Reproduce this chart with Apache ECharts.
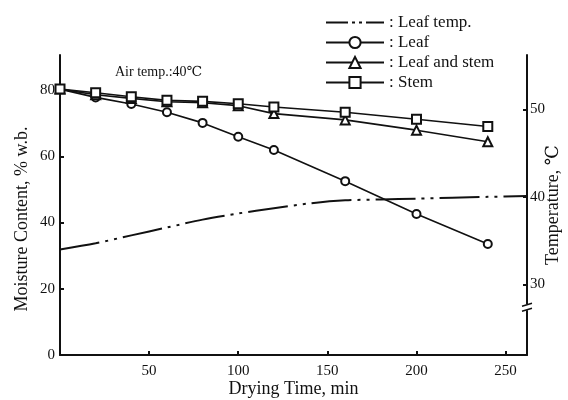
<!DOCTYPE html>
<html>
<head>
<meta charset="utf-8">
<script src="https://cdn.jsdelivr.net/npm/echarts@6/dist/echarts.min.js"></script>
<style>
  html, body { margin: 0; padding: 0; background: #fff; }
  #main { width: 568px; height: 400px; }
</style>
</head>
<body>
<div id="main"></div>
<script>
// sampling times (min)
var times = [0, 20, 40, 60, 80, 100, 120, 160, 200, 240];
// moisture content, % w.b.
var leaf = [80.3, 77.8, 75.8, 73.3, 70.1, 65.9, 61.9, 52.5, 42.6, 33.5];
var leafAndStem = [80.3, 78.6, 77.5, 76.5, 76.2, 75.3, 72.9, 71.0, 67.9, 64.4];
var stem = [80.3, 79.2, 78.0, 76.9, 76.6, 75.9, 74.9, 73.3, 71.2, 69.0];
// leaf temperature curve, ℃
var tempTimes = [0, 20, 40, 60, 80, 100, 120, 140, 160, 180, 200, 220, 240, 262];
var leafTemp = [34.0, 34.7, 35.6, 36.5, 37.4, 38.1, 38.7, 39.25, 39.6, 39.7, 39.8, 39.9, 40.0, 40.1];
// tick labels
var xTicks = [50, 100, 150, 200, 250];
var moistureTicks = [0, 20, 40, 60, 80];
var tempTicks = [30, 40, 50];

function pairs(xs, ys) {
    var out = [];
    for (var i = 0; i < xs.length; i++) {
        out.push([xs[i], ys[i]]);
    }
    return out;
}

var serif = '"Liberation Serif", "DejaVu Serif", serif';
var ink = '#111';

var myChart = echarts.init(document.getElementById('main'));

var markerStyle = { color: '#fff', borderColor: ink, borderWidth: 2 };
// dash-dot-dot sample for the legend (no marker)
var dashDotIcon = 'path://M0 6h22v2H0z M26 6h3v2h-3z M33 6h3v2h-3z M40 6h18v2H40z';

var option = {
    animation: false,
    backgroundColor: '#fff',
    textStyle: { fontFamily: serif, color: ink },
    title: {
        text: 'Air temp.:40℃',
        left: 110,
        top: 60,
        textStyle: { fontFamily: serif, fontSize: 14, fontWeight: 'normal', color: ink }
    },
    legend: {
        orient: 'vertical',
        left: 320,
        top: 9,
        itemWidth: 58,
        itemHeight: 14,
        itemGap: 3,
        formatter: function (name) { return ': ' + name; },
        textStyle: { fontFamily: serif, fontSize: 17, lineHeight: 17, color: ink },
        data: [
            { name: 'Leaf temp.', icon: dashDotIcon, itemStyle: { color: ink } },
            'Leaf', 'Leaf and stem', 'Stem'
        ]
    },
    grid: { left: 60, right: 41, top: 55, bottom: 45, outerBoundsMode: 'none' },
    xAxis: {
        type: 'value',
        min: 0,
        max: 262,
        name: 'Drying Time, min',
        nameLocation: 'middle',
        nameGap: 25,
        nameMoveOverlap: false,
        nameTextStyle: { fontFamily: serif, fontSize: 18, color: ink },
        axisLine: { lineStyle: { color: ink, width: 2 } },
        axisTick: { inside: true, length: 4, customValues: xTicks, lineStyle: { color: ink, width: 2 } },
        axisLabel: { customValues: xTicks, fontFamily: serif, fontSize: 15, color: ink, margin: 9 },
        splitLine: { show: false }
    },
    yAxis: [
        {
            type: 'value',
            min: 0,
            max: 90.6,
            name: 'Moisture Content, % w.b.',
            nameLocation: 'middle',
            nameRotate: 90,
            nameGap: 29,
            nameMoveOverlap: false,
            nameTextStyle: { fontFamily: serif, fontSize: 18, color: ink, padding: [0, 28, 0, 0] },
            axisLine: { show: true, lineStyle: { color: ink, width: 2 } },
            axisTick: { show: true, inside: true, length: 4, customValues: moistureTicks, lineStyle: { color: ink, width: 2 } },
            axisLabel: { customValues: moistureTicks, fontFamily: serif, fontSize: 15, color: ink, margin: 5 },
            splitLine: { show: false }
        },
        {
            type: 'value',
            position: 'right',
            min: 21.94,
            max: 56.2,
            name: 'Temperature, ℃',
            nameLocation: 'middle',
            nameRotate: 90,
            nameGap: 17,
            nameMoveOverlap: false,
            nameTextStyle: { fontFamily: serif, fontSize: 18, color: ink },
            axisLine: { show: true, lineStyle: { color: ink, width: 2 } },
            axisTick: { show: true, inside: true, length: 4, customValues: tempTicks, lineStyle: { color: ink, width: 2 } },
            axisLabel: { customValues: tempTicks, fontFamily: serif, fontSize: 15, color: ink, margin: 3 },
            splitLine: { show: false }
        }
    ],
    series: [
        {
            name: 'Leaf temp.',
            type: 'line',
            yAxisIndex: 1,
            smooth: 0.3,
            showSymbol: false,
            symbol: 'none',
            lineStyle: { color: ink, width: 2, type: [40, 6, 3, 6, 3, 6] },
            itemStyle: { color: ink },
            data: pairs(tempTimes, leafTemp)
        },
        {
            name: 'Leaf',
            type: 'line',
            symbol: 'circle',
            symbolSize: 8,
            lineStyle: { color: ink, width: 1.6 },
            itemStyle: markerStyle,
            data: pairs(times, leaf)
        },
        {
            name: 'Leaf and stem',
            type: 'line',
            symbol: 'triangle',
            symbolSize: 9,
            lineStyle: { color: ink, width: 1.6 },
            itemStyle: markerStyle,
            data: pairs(times, leafAndStem)
        },
        {
            name: 'Stem',
            type: 'line',
            symbol: 'rect',
            symbolSize: 9,
            lineStyle: { color: ink, width: 1.6 },
            itemStyle: markerStyle,
            data: pairs(times, stem)
        }
    ]
};
myChart.setOption(option);

// axis break mark on the temperature axis
var bx = myChart.convertToPixel({ xAxisIndex: 0 }, 262);
var by = myChart.convertToPixel({ yAxisIndex: 1 }, 27.4);
myChart.setOption({
    graphic: [
        { type: 'rect', shape: { x: bx - 4, y: by - 3, width: 8, height: 6 }, style: { fill: '#fff' }, z: 100 },
        { type: 'line', shape: { x1: bx - 5, y1: by - 1, x2: bx + 5, y2: by - 4 }, style: { stroke: ink, lineWidth: 1.5 }, z: 101 },
        { type: 'line', shape: { x1: bx - 5, y1: by + 4, x2: bx + 5, y2: by + 1 }, style: { stroke: ink, lineWidth: 1.5 }, z: 101 }
    ]
});
</script>
</body>
</html>
